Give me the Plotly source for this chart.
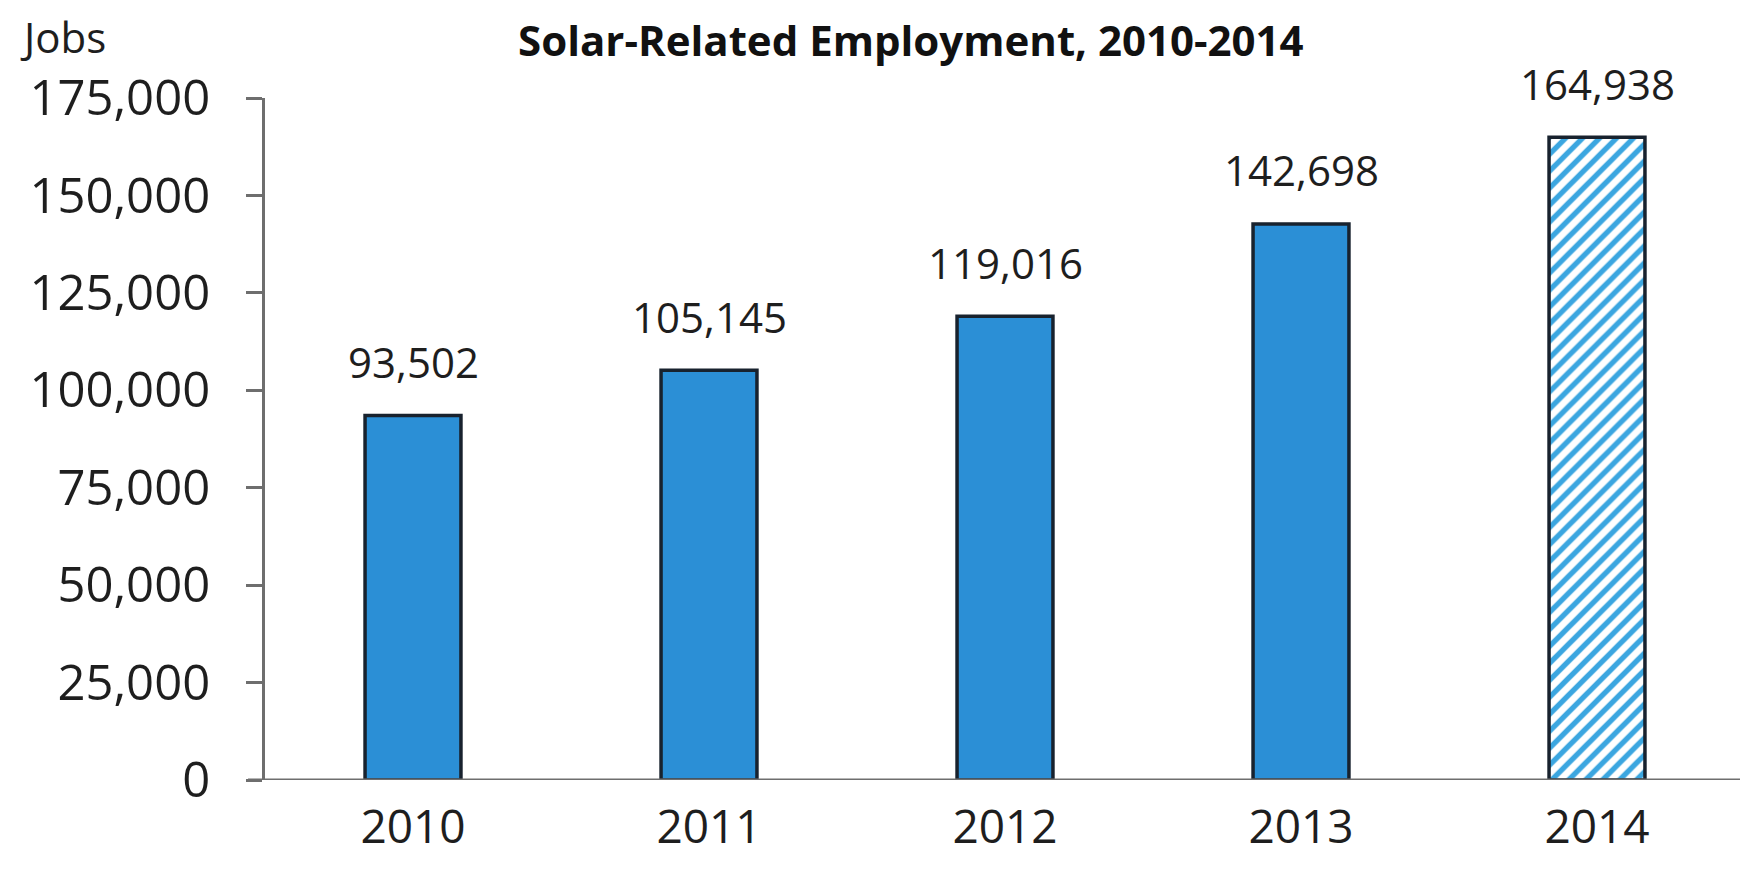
import plotly.graph_objects as go

# ---- data ----
years = ["2010", "2011", "2012", "2013", "2014"]
jobs = [93502, 105145, 119016, 142698, 164938]
projected = [False, False, False, False, True]
y_ticks = [0, 25000, 50000, 75000, 100000, 125000, 150000, 175000]

title_text = "Solar-Related Employment, 2010-2014"
y_label = "Jobs"

# ---- layout geometry (pixels) ----
W, H = 1748, 869
L, R, T, B = 257, 11, 90, 97
plot_h = H - T - B
plot_w = W - L - R

def py(p):   # pixel y -> paper y
    return (H - B - p) / plot_h

def px(p):   # pixel x -> paper x
    return (p - L) / plot_w

FONT = "Open Sans"
TXT = "#1e1e1e"
AX = "#6e6e6e"
BLUE = "#2b8fd6"
HATCH = "#3ba6e0"

x_pos = list(range(len(years)))

fig = go.Figure()
fig.add_trace(go.Bar(
    x=x_pos,
    y=jobs,
    marker=dict(
        color=[HATCH if p else BLUE for p in projected],
        line=dict(color="#18222e", width=3.5),
        pattern=dict(
            shape=["/" if p else "" for p in projected],
            fgcolor=[HATCH if p else BLUE for p in projected],
            bgcolor=["white" if p else BLUE for p in projected],
            size=12,
            solidity=0.45,
            fillmode="replace",
        ),
    ),
    hoverinfo="skip",
))

# value labels
for i, v in zip(x_pos, jobs):
    fig.add_annotation(
        x=i, y=v, xref="x", yref="y",
        text=f"{v:,}", showarrow=False,
        yanchor="middle", yshift=54,
        font=dict(family=FONT, size=42, color=TXT),
    )

# title
fig.add_annotation(
    x=px(903), y=py(31), xref="paper", yref="paper",
    text=f"<b>{title_text}</b>", showarrow=False,
    xanchor="center", yanchor="middle",
    font=dict(family=FONT, size=42, color="#111111"),
)

# axis title "Jobs"
fig.add_annotation(
    x=px(10), y=py(28), xref="paper", yref="paper",
    text=y_label, showarrow=False,
    xanchor="left", yanchor="middle",
    font=dict(family=FONT, size=42, color=TXT),
)

# horizontal axis line (extends slightly left of the y axis)
fig.add_shape(
    type="line", xref="paper", yref="y",
    x0=px(240), x1=px(1737), y0=0, y1=0,
    line=dict(color=AX, width=3),
)

fig.update_layout(
    width=W, height=H,
    margin=dict(l=L, r=R, t=T, b=B),
    paper_bgcolor="white", plot_bgcolor="white",
    showlegend=False,
    bargap=0.676,
    xaxis=dict(
        range=[-0.5, 4.5],
        tickvals=x_pos,
        ticktext=years,
        showline=False, showgrid=False, zeroline=False,
        ticks="",
        tickfont=dict(family=FONT, size=46, color=TXT),
        ticklabelstandoff=16,
        automargin=False,
        fixedrange=True,
    ),
    yaxis=dict(
        range=[0, 175000],
        tickvals=y_ticks,
        tickformat=",",
        showline=True, linecolor=AX, linewidth=3,
        ticks="outside", ticklen=16, tickwidth=3, tickcolor=AX,
        showgrid=False, zeroline=False,
        tickfont=dict(family=FONT, size=49, color=TXT),
        ticklabelstandoff=26,
        automargin=False,
        fixedrange=True,
    ),
)

fig.write_html("out.html")
